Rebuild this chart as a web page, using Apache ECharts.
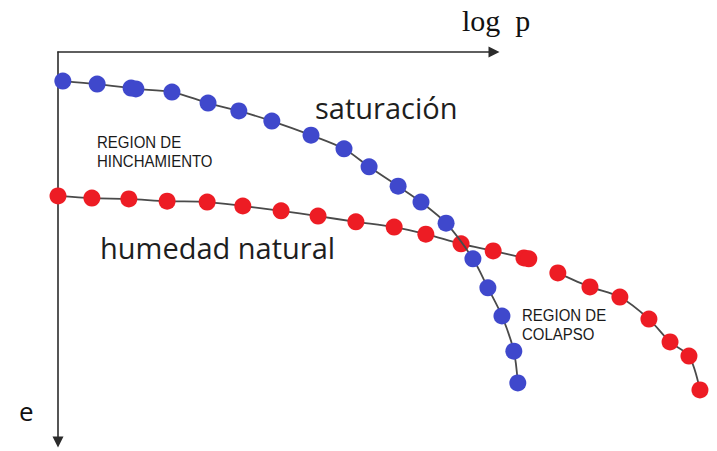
<!DOCTYPE html>
<html>
<head>
<meta charset="utf-8">
<script src="https://cdn.jsdelivr.net/npm/echarts@6/dist/echarts.min.js"></script>
<style>
html,body{margin:0;padding:0;background:#fff;}
#c{width:717px;height:451px;}
</style>
</head>
<body>
<div id="c"></div>
<script>
// log p (arbitrary units) and void ratio e (axis drawn downward)
const satX = [0.11, 0.89, 1.66, 1.77, 2.59, 3.41, 4.11, 4.86, 5.75, 6.50, 7.07, 7.73, 8.25, 8.82, 9.43, 9.77, 10.09, 10.36, 10.45];
const satE = [0.66, 0.73, 0.82, 0.84, 0.91, 1.16, 1.34, 1.57, 1.89, 2.20, 2.61, 3.05, 3.41, 3.89, 4.70, 5.36, 6.00, 6.80, 7.52];
const natX = [0, 0.77, 1.61, 2.48, 3.39, 4.20, 5.07, 5.91, 6.77, 7.64, 8.36, 9.16, 9.89, 10.59, 10.70, null, 11.36, 12.09, 12.77, 13.43, 13.91, 14.34, 14.59];
const natE = [3.27, 3.32, 3.34, 3.39, 3.41, 3.50, 3.61, 3.73, 3.86, 3.98, 4.14, 4.36, 4.52, 4.68, 4.70, null, 5.02, 5.34, 5.57, 6.07, 6.59, 6.91, 7.68];
const xAxisName = 'log  p';
const yAxisName = 'e';
const satName = 'saturación';
const natName = 'humedad natural';
const swellLabel = 'REGION DE\nHINCHAMIENTO';
const collapseLabel = 'REGION DE\nCOLAPSO';

function pairs(xs, ys) {
  return xs.map((x, i) => (x === null ? '-' : [x, ys[i]]));
}

const PX = 44; // pixels per unit on both axes
const chart = echarts.init(document.getElementById('c'), null, {renderer: 'svg'});
const lineStyle = {color: '#4a4a4a', width: 1.8};
const axisLineStyle = {color: '#2b2b2b', width: 1.6};
const hiddenAxis = {show: false};
chart.setOption({
  animation: false,
  backgroundColor: '#fff',
  grid: [
    {left: 58, top: 52, width: 436, height: 390},
    {left: 58, top: 52, width: 651, height: 390}
  ],
  xAxis: [
    {
      gridIndex: 0, type: 'value', position: 'top', min: 0, max: 436 / PX,
      axisLine: {show: true, onZero: false, lineStyle: axisLineStyle,
        symbol: ['none', 'triangle'], symbolSize: [11, 11]},
      axisTick: {show: false}, axisLabel: {show: false}, splitLine: {show: false}
    },
    Object.assign({gridIndex: 1, type: 'value', min: 0, max: 651 / PX}, hiddenAxis)
  ],
  yAxis: [
    {
      gridIndex: 0, type: 'value', inverse: true, min: 0, max: 390 / PX,
      axisLine: {show: true, onZero: false, lineStyle: axisLineStyle,
        symbol: ['triangle', 'none'], symbolSize: [11, 11]},
      axisTick: {show: false}, axisLabel: {show: false}, splitLine: {show: false}
    },
    Object.assign({gridIndex: 1, type: 'value', inverse: true, min: 0, max: 390 / PX}, hiddenAxis)
  ],
  series: [
    {
      name: natName, type: 'line', xAxisIndex: 1, yAxisIndex: 1,
      data: pairs(natX, natE), clip: false,
      smooth: 0.3, connectNulls: false, symbol: 'circle', symbolSize: 17,
      itemStyle: {color: '#ED1C24'}, lineStyle: lineStyle, z: 2
    },
    {
      name: satName, type: 'line', xAxisIndex: 1, yAxisIndex: 1,
      data: pairs(satX, satE), clip: false,
      smooth: 0.3, symbol: 'circle', symbolSize: 17,
      itemStyle: {color: '#3F48CC'}, lineStyle: lineStyle, z: 3
    }
  ],
  graphic: [
    {type: 'text', x: 462, y: 20, style: {text: xAxisName, font: '30px "Liberation Serif"', fill: '#111', align: 'left', verticalAlign: 'middle'}},
    {type: 'text', x: 19, y: 411, style: {text: yAxisName, font: '26px "Open Sans"', fill: '#111', align: 'left', verticalAlign: 'middle'}},
    {type: 'text', x: 315, y: 107, style: {text: satName, font: '29px "Open Sans"', fill: '#1e1e1e', align: 'left', verticalAlign: 'middle'}},
    {type: 'text', x: 100, y: 247, style: {text: natName, font: '29px "Open Sans"', fill: '#1e1e1e', align: 'left', verticalAlign: 'middle'}},
    {type: 'text', x: 97, y: 151, scaleY: 1.15, originX: 0, originY: 0,
      style: {text: swellLabel, font: '15px "Liberation Sans"', lineHeight: 16, fill: '#1a1a1a', align: 'left', verticalAlign: 'middle'}},
    {type: 'text', x: 522, y: 324, scaleY: 1.15, originX: 0, originY: 0,
      style: {text: collapseLabel, font: '15px "Liberation Sans"', lineHeight: 16, fill: '#1a1a1a', align: 'left', verticalAlign: 'middle'}}
  ]
});
</script>
</body>
</html>
